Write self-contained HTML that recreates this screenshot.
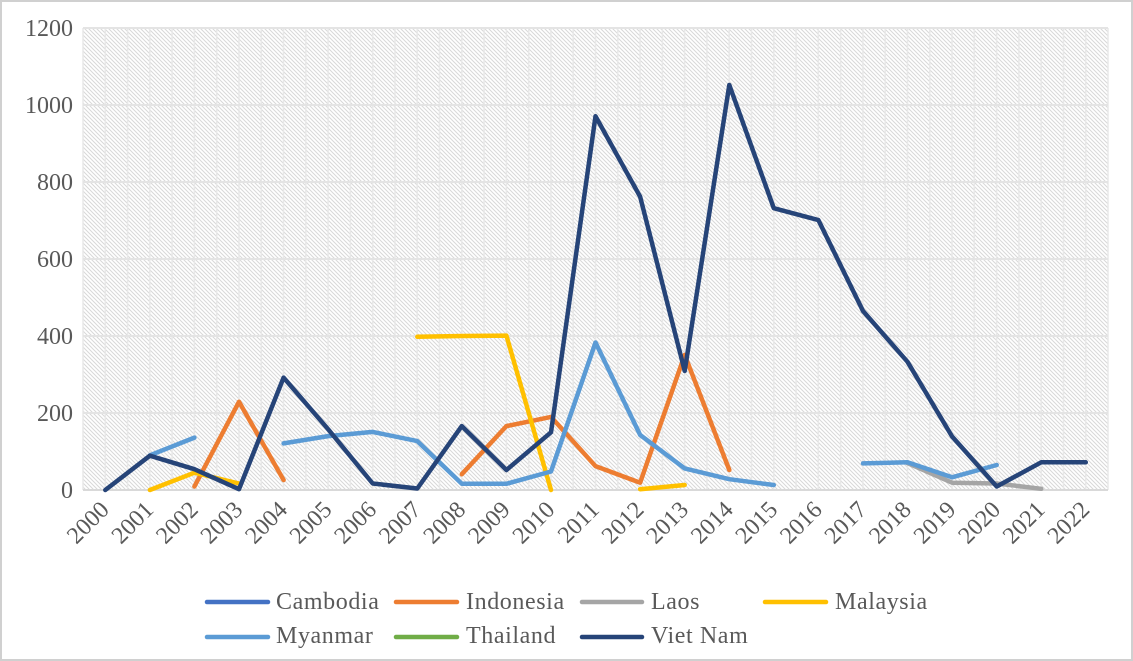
<!DOCTYPE html>
<html>
<head>
<meta charset="utf-8">
<style>
  html, body { margin: 0; padding: 0; background: #fff; }
  svg { display: block; }
  text { font-family: "Liberation Serif", serif; fill: #595959; }
</style>
</head>
<body>
<svg width="1133" height="661" viewBox="0 0 1133 661" xmlns="http://www.w3.org/2000/svg">
  <defs>
    <pattern id="hatch" width="4" height="4" patternUnits="userSpaceOnUse">
      <rect width="4" height="4" fill="#ffffff"/>
      <path d="M-1,-1 L5,5 M-1,3 L1,5 M3,-1 L5,1" stroke="#d8d8d8" stroke-width="1"/>
    </pattern>
  </defs>
  <rect x="0" y="0" width="1133" height="661" fill="#ffffff"/>
  <rect x="1" y="1" width="1131" height="659" fill="none" stroke="#d0d0d0" stroke-width="2"/>

  <!-- plot area -->
  <rect x="83" y="28" width="1025" height="462" fill="url(#hatch)"/>

  <!-- vertical gridlines -->
  <path stroke="#e8e8e8" stroke-width="1.5" fill="none" d="
    M83,28V490 M105.3,28V490 M127.6,28V490 M149.8,28V490 M172.1,28V490 M194.4,28V490
    M216.7,28V490 M239,28V490 M261.3,28V490 M283.5,28V490 M305.8,28V490 M328.1,28V490
    M350.4,28V490 M372.7,28V490 M395,28V490 M417.2,28V490 M439.5,28V490 M461.8,28V490
    M484.1,28V490 M506.4,28V490 M528.7,28V490 M550.9,28V490 M573.2,28V490 M595.5,28V490
    M617.8,28V490 M640.1,28V490 M662.4,28V490 M684.6,28V490 M706.9,28V490 M729.2,28V490
    M751.5,28V490 M773.8,28V490 M796.1,28V490 M818.3,28V490 M840.6,28V490 M862.9,28V490
    M885.2,28V490 M907.5,28V490 M929.8,28V490 M952,28V490 M974.3,28V490 M996.6,28V490
    M1018.9,28V490 M1041.2,28V490 M1063.5,28V490 M1085.7,28V490 M1108,28V490"/>
  <!-- horizontal gridlines -->
  <path stroke="#e4e4e4" stroke-width="2" fill="none" d="
    M83,28H1108 M83,105H1108 M83,182H1108 M83,259H1108 M83,336H1108 M83,413H1108"/>
  <path stroke="#d9d9d9" stroke-width="2" fill="none" d="M83,490H1108"/>

  <!-- y labels -->
  <g font-size="24" text-anchor="end">
    <text x="73" y="36">1200</text>
    <text x="73" y="113">1000</text>
    <text x="73" y="190">800</text>
    <text x="73" y="267">600</text>
    <text x="73" y="344">400</text>
    <text x="73" y="421">200</text>
    <text x="73" y="498">0</text>
  </g>

  <!-- x labels -->
  <g font-size="24" text-anchor="end">
    <text transform="translate(110.3,511) rotate(-45)">2000</text>
    <text transform="translate(154.9,511) rotate(-45)">2001</text>
    <text transform="translate(199.4,511) rotate(-45)">2002</text>
    <text transform="translate(244,511) rotate(-45)">2003</text>
    <text transform="translate(288.6,511) rotate(-45)">2004</text>
    <text transform="translate(333.1,511) rotate(-45)">2005</text>
    <text transform="translate(377.7,511) rotate(-45)">2006</text>
    <text transform="translate(422.3,511) rotate(-45)">2007</text>
    <text transform="translate(466.8,511) rotate(-45)">2008</text>
    <text transform="translate(511.4,511) rotate(-45)">2009</text>
    <text transform="translate(556,511) rotate(-45)">2010</text>
    <text transform="translate(600.5,511) rotate(-45)">2011</text>
    <text transform="translate(645.1,511) rotate(-45)">2012</text>
    <text transform="translate(689.7,511) rotate(-45)">2013</text>
    <text transform="translate(734.3,511) rotate(-45)">2014</text>
    <text transform="translate(778.8,511) rotate(-45)">2015</text>
    <text transform="translate(823.4,511) rotate(-45)">2016</text>
    <text transform="translate(868,511) rotate(-45)">2017</text>
    <text transform="translate(912.5,511) rotate(-45)">2018</text>
    <text transform="translate(957.1,511) rotate(-45)">2019</text>
    <text transform="translate(1001.7,511) rotate(-45)">2020</text>
    <text transform="translate(1046.2,511) rotate(-45)">2021</text>
    <text transform="translate(1090.8,511) rotate(-45)">2022</text>
  </g>

  <!-- series -->
  <g fill="none" stroke-width="4.5" stroke-linecap="round" stroke-linejoin="round">
    <!-- Indonesia -->
    <polyline stroke="#ed7d31" points="194.4,486.5 239,401.8 283.6,480"/>
    <polyline stroke="#ed7d31" points="461.8,474.2 506.4,426.1 551,416.9 595.5,466.1 640.1,482.7 684.7,354.9 729.3,470"/>
    <!-- Laos -->
    <polyline stroke="#a5a5a5" points="907.5,463.1 952.1,482.7 996.7,483.5 1041.2,488.8"/>
    <!-- Malaysia -->
    <polyline stroke="#ffc000" points="149.9,490 194.4,472.7 239,483.5"/>
    <polyline stroke="#ffc000" points="417.3,336.8 461.8,336 506.4,335.6 551,490"/>
    <polyline stroke="#ffc000" points="640.1,489.2 684.7,485"/>
    <!-- Myanmar -->
    <polyline stroke="#5b9bd5" points="149.9,455.3 194.4,437.6"/>
    <polyline stroke="#5b9bd5" points="283.6,443.4 328.1,436.1 372.7,431.9 417.3,441.1 461.8,483.8 506.4,483.8 551,471.5 595.5,342.5 640.1,434.9 684.7,468.4 729.3,479.2 773.8,485"/>
    <polyline stroke="#5b9bd5" points="863,463.4 907.5,462.3 952.1,477.3 996.7,465"/>
    <!-- Viet Nam -->
    <polyline stroke="#264478" points="105.3,490 149.9,455.7 194.4,469.2 239,489.2 283.6,377.6 328.1,429.2 372.7,483.5 417.3,488.5 461.8,426.1 506.4,470 551,432.3 595.5,116.2 640.1,196.6 684.7,371 729.3,85 773.8,208.2 818.4,220.1 863,311 907.5,361.8 952.1,436.5 996.7,486.5 1041.2,462.3 1085.8,462.3"/>
  </g>

  <!-- legend -->
  <g stroke-width="4.5" stroke-linecap="round">
    <line x1="207" y1="602" x2="268" y2="602" stroke="#4472c4"/>
    <line x1="396" y1="602" x2="457" y2="602" stroke="#ed7d31"/>
    <line x1="582" y1="602" x2="642" y2="602" stroke="#a5a5a5"/>
    <line x1="765" y1="602" x2="826" y2="602" stroke="#ffc000"/>
    <line x1="207" y1="637" x2="268" y2="637" stroke="#5b9bd5"/>
    <line x1="396" y1="637" x2="457" y2="637" stroke="#70ad47"/>
    <line x1="582" y1="637" x2="642" y2="637" stroke="#264478"/>
  </g>
  <g font-size="24" letter-spacing="0.6">
    <text x="276" y="609">Cambodia</text>
    <text x="466" y="609">Indonesia</text>
    <text x="651" y="609">Laos</text>
    <text x="835" y="609">Malaysia</text>
    <text x="276" y="643">Myanmar</text>
    <text x="466" y="643">Thailand</text>
    <text x="651" y="643">Viet Nam</text>
  </g>
</svg>
</body>
</html>
